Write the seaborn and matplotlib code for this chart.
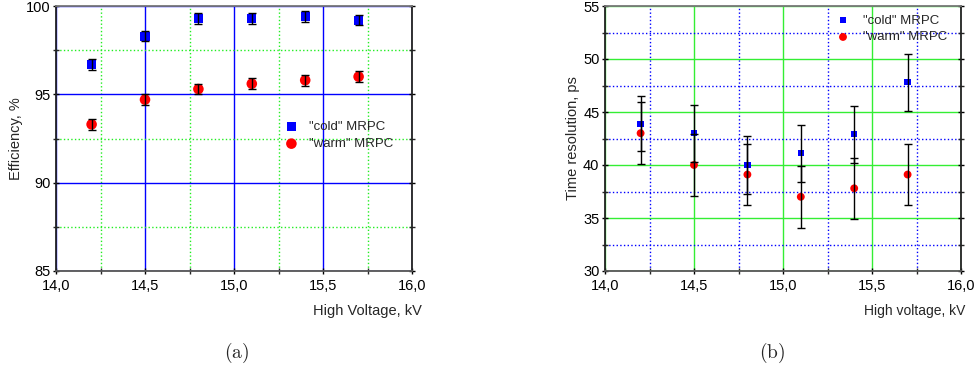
import numpy as np
import pandas as pd
import matplotlib
matplotlib.use("Agg")
import matplotlib.pyplot as plt
import seaborn as sns
from matplotlib.ticker import MultipleLocator, FuncFormatter

# ---------------- data ----------------
hv = [14.2, 14.5, 14.8, 15.1, 15.4, 15.7]
eff_cold = [96.7, 98.3, 99.3, 99.3, 99.4, 99.2]
eff_cold_err = [0.3, 0.3, 0.3, 0.3, 0.3, 0.3]
eff_warm = [93.3, 94.7, 95.3, 95.6, 95.8, 96.0]
eff_warm_err = [0.3, 0.3, 0.3, 0.3, 0.3, 0.3]

tr_cold = [43.9, 43.0, 40.0, 41.1, 42.9, 47.8]
tr_cold_err = [2.6, 2.7, 2.7, 2.7, 2.7, 2.7]
tr_warm = [43.0, 40.0, 39.1, 37.0, 37.8, 39.1]
tr_warm_err = [2.9, 2.9, 2.9, 2.9, 2.9, 2.9]

series_labels = ['"cold" MRPC', '"warm" MRPC']
panel_labels = ["(a)", "(b)"]

# ---------------- style ----------------
sns.set_theme(style="white")
plt.rcParams["font.family"] = ["Liberation Sans", "DejaVu Sans"]
plt.rcParams["mathtext.fontset"] = "cm"

fig = plt.figure(figsize=(9.74, 3.73), dpi=100)
axL = fig.add_axes([56 / 974, 1 - 271 / 373, 356 / 974, 265 / 373])
axR = fig.add_axes([605 / 974, 1 - 271 / 373, 356 / 974, 265 / 373])

comma = FuncFormatter(lambda v, p: f"{v:.1f}".replace(".", ","))
colors = {series_labels[0]: "#0000ff", series_labels[1]: "#ff0000"}
markers = {series_labels[0]: "s", series_labels[1]: "o"}


def style_axes(ax, major_col, major_ls, minor_col, minor_ls, ymaj, ymin):
    ax.set_xlim(14.0, 16.0)
    ax.xaxis.set_major_locator(MultipleLocator(0.5))
    ax.xaxis.set_minor_locator(MultipleLocator(0.25))
    ax.yaxis.set_major_locator(MultipleLocator(ymaj))
    ax.yaxis.set_minor_locator(MultipleLocator(ymin))
    ax.xaxis.set_major_formatter(comma)
    ax.grid(which="major", color=major_col, linestyle=major_ls, linewidth=1.0)
    ax.grid(which="minor", color=minor_col, linestyle=minor_ls, linewidth=1.0)
    ax.set_axisbelow(True)
    for s in ax.spines.values():
        s.set_visible(True)
        s.set_color("#222222")
        s.set_linewidth(1.3)
    ax.spines["bottom"].set_color("#555555")
    ax.spines["top"].set_color("#777777")
    ax.tick_params(which="major", length=4, width=1.0, labelsize=10.5,
                   colors="black", left=True, bottom=True, right=True, top=False)
    ax.tick_params(which="minor", length=4, width=1.0,
                   left=True, bottom=True, right=True, top=False)
    ax.yaxis.set_tick_params(which="both", direction="inout", pad=2)
    ax.xaxis.set_tick_params(which="both", direction="inout", pad=4)


def draw_panel(ax, df, sizes):
    for lab in series_labels:
        d = df[df.series == lab]
        sns.scatterplot(data=d, x="hv", y="val", marker=markers[lab],
                        color=colors[lab], s=sizes[lab], edgecolor="none",
                        label=lab, ax=ax, zorder=4)
        ax.errorbar(d.hv, d.val, yerr=d.err, fmt="none", ecolor="black",
                    elinewidth=1.0, capsize=3, capthick=1.0, zorder=5)


# ---------------- panel (a) ----------------
dfa = pd.DataFrame({
    "hv": hv * 2,
    "val": eff_cold + eff_warm,
    "err": eff_cold_err + eff_warm_err,
    "series": [series_labels[0]] * 6 + [series_labels[1]] * 6,
})
style_axes(axL, "blue", "-", "#22ee22", ":", 5, 2.5)
axL.set_ylim(85, 100)
draw_panel(axL, dfa, {series_labels[0]: 42, series_labels[1]: 58})
axL.legend(loc="upper left", bbox_to_anchor=(0.639, 0.566), frameon=False,
           fontsize=9.5, handletextpad=0.7, labelspacing=0.35,
           handlelength=1.2, borderaxespad=0, borderpad=0)
axL.set_ylabel("Efficiency, %", fontsize=10.5, labelpad=2)
axL.set_xlabel("High Voltage, kV", fontsize=10.5)
axL.xaxis.set_label_coords(1.027, -0.125)
axL.xaxis.label.set_ha("right")

# ---------------- panel (b) ----------------
dfb = pd.DataFrame({
    "hv": hv * 2,
    "val": tr_cold + tr_warm,
    "err": tr_cold_err + tr_warm_err,
    "series": [series_labels[0]] * 6 + [series_labels[1]] * 6,
})
style_axes(axR, "#33ee33", "-", "blue", ":", 5, 2.5)
axR.set_ylim(30, 55)
draw_panel(axR, dfb, {series_labels[0]: 20, series_labels[1]: 32})
axR.legend(loc="upper left", bbox_to_anchor=(0.637, 0.981), frameon=False,
           fontsize=9.5, handletextpad=0.93, labelspacing=0.35,
           handlelength=1.2, borderaxespad=0, borderpad=0.25)
axR.set_ylabel("Time resolution, ps", fontsize=10.5, labelpad=2)
axR.set_xlabel("High voltage, kV", fontsize=10)
axR.xaxis.set_label_coords(1.012, -0.125)
axR.xaxis.label.set_ha("right")

# ---------------- captions ----------------
fig.text(237 / 974, 1 - 353 / 373, r"$\mathrm{" + panel_labels[0] + "}$",
         ha="center", va="center", fontsize=14)
fig.text(772 / 974, 1 - 353 / 373, r"$\mathrm{" + panel_labels[1] + "}$",
         ha="center", va="center", fontsize=14)

fig.savefig("out.png", dpi=100)
